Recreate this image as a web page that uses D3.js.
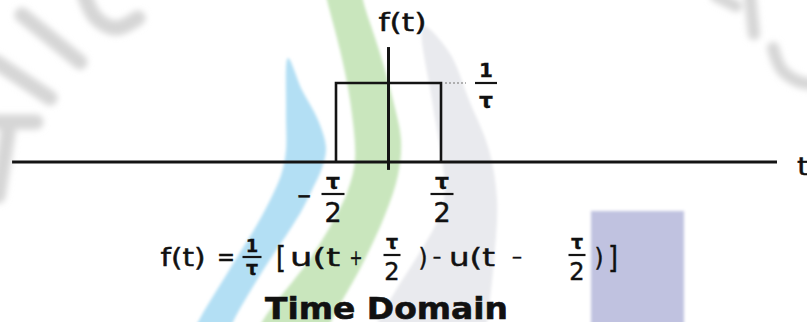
<!DOCTYPE html>
<html>
<head>
<meta charset="utf-8">
<script src="https://cdn.jsdelivr.net/npm/d3@7"></script>
<style>
  html, body { margin: 0; padding: 0; background: #ffffff; }
  svg { display: block; }
  text { font-family: "DejaVu Sans", Verdana, sans-serif; fill: #111; }
</style>
</head>
<body>
<svg id="chart" width="807" height="322"></svg>
<script>
// ---------- data ----------
const tau = 1;
const pulseT = [-tau / 2, -tau / 2, tau / 2, tau / 2];   // time points of the pulse outline
const pulseF = [0, 1 / tau, 1 / tau, 0];                  // f(t) values at those points
const tAxisExtent = [-3.585, 3.7];                        // horizontal (t) axis span
const fAxisExtent = [-0.1, 1.455];                        // vertical (f) axis span
const tickValues = [-tau / 2, tau / 2];
const tickLabels = [{ sign: "−", num: "τ", den: "2" }, { sign: "", num: "τ", den: "2" }];
const levelLabel = { num: "1", den: "τ" };
const axisNames = { x: "t", y: "f(t)" };
const title = "Time Domain";

// ---------- setup ----------
const svg = d3.select("#chart");
const x = d3.scaleLinear().domain([-tau / 2, tau / 2]).range([336, 441]);
const y = d3.scaleLinear().domain([0, 1 / tau]).range([162, 83]);

// ---------- watermark decoration ----------
const defs = svg.append("defs");
defs.append("filter").attr("id", "soft").attr("x", "-20%").attr("y", "-20%").attr("width", "140%").attr("height", "140%")
  .append("feGaussianBlur").attr("stdDeviation", 1.8);
defs.append("filter").attr("id", "softer").attr("x", "-30%").attr("y", "-30%").attr("width", "160%").attr("height", "160%")
  .append("feGaussianBlur").attr("stdDeviation", 3);
const deco = svg.append("g").attr("filter", "url(#soft)");
const closed = d3.line().curve(d3.curveCatmullRomClosed);
const open = d3.line().curve(d3.curveCatmullRom);

const blueShape = [[288,58],[286,110],[286,150],[282,172],[274,192],[265,210],[255,228],[228,272],[198,322],[190,340],
  [226,340],[233,322],[262,272],[291,228],[302,210],[312,190],[322,168],[326,148],[318,120],[302,90]];
const greenShape = [[325,-10],[327,0],[340,50],[350,100],[355,160],[348,190],[338,212],[312,256],[262,322],[255,340],
  [325,340],[331,322],[362,265],[385,215],[398,175],[401,140],[393,100],[379,50],[363,0],[362,-10]];
const grayShape = [[423,26],[432,100],[442,160],[445,190],[440,215],[420,252],[396,290],[378,322],[372,340],
  [484,340],[487,322],[494,260],[497,200],[489,150],[469,100],[449,52]];
deco.append("path").attr("d", closed(grayShape)).attr("fill", "#e9eaee");
deco.append("path").attr("d", closed(greenShape)).attr("fill", "#c9e6bd");
deco.append("path").attr("d", closed(blueShape)).attr("fill", "#b3dff4");
deco.append("rect").attr("x", 591).attr("y", 211).attr("width", 93).attr("height", 120).attr("fill", "#c0c2e0");

// faint gray watermark strokes (corners)
const wm = svg.append("g").attr("filter", "url(#softer)").attr("fill", "none").attr("stroke", "#d6d6d6")
  .attr("stroke-linecap", "round").attr("stroke-width", 15);
wm.append("path").attr("d", open([[22,15],[80,62]]));
wm.append("path").attr("d", open([[-4,62],[50,98]]));
wm.append("path").attr("d", open([[-4,122],[36,122]]));
wm.append("path").attr("d", open([[8,132],[-2,196]]));
wm.append("path").attr("d", open([[84,-6],[96,18],[116,28],[138,18]]));
wm.append("path").attr("d", open([[716,-4],[736,6]])).attr("stroke-width", 12);
wm.append("path").attr("d", open([[750,-4],[754,34]])).attr("stroke-width", 12);
wm.append("path").attr("d", open([[773,48],[782,70],[800,82],[812,84]])).attr("stroke-width", 12);

// ---------- axes ----------
const ink = "#141414";
svg.append("line")
  .attr("x1", x(tAxisExtent[0])).attr("x2", x(tAxisExtent[1]))
  .attr("y1", y(0)).attr("y2", y(0))
  .attr("stroke", ink).attr("stroke-width", 3);
svg.append("line")
  .attr("x1", x(0)).attr("x2", x(0))
  .attr("y1", y(fAxisExtent[0])).attr("y2", y(fAxisExtent[1]))
  .attr("stroke", ink).attr("stroke-width", 3);

// ---------- pulse ----------
const pulse = d3.line().x((d, i) => x(pulseT[i])).y((d, i) => y(pulseF[i]));
svg.append("path").attr("d", pulse(pulseT)).attr("fill", "none")
  .attr("stroke", ink).attr("stroke-width", 2.6).attr("stroke-linejoin", "miter");

// dotted leader to level label
svg.append("line")
  .attr("x1", x(tau / 2) + 4).attr("x2", x(tau / 2) + 25)
  .attr("y1", y(1 / tau)).attr("y2", y(1 / tau))
  .attr("stroke", "#9a9a9a").attr("stroke-width", 1.6).attr("stroke-dasharray", "2,2");

// ---------- text helpers ----------
// centred text; if w is given the glyphs are stretched horizontally to that width
function txt(g, cx, cy, s, size, opts = {}) {
  const t = g.append("text").attr("x", 0).attr("y", 0)
    .attr("text-anchor", "middle").attr("dominant-baseline", "central")
    .attr("font-size", size).attr("font-weight", opts.bold ? "bold" : "normal")
    .attr("stroke", "#111").attr("stroke-width", opts.bold ? 0.3 : 0.45)
    .text(s);
  let sx = 1;
  if (opts.w) {
    const len = t.node().getComputedTextLength();
    if (len > 0) sx = opts.w / len;
  }
  t.attr("transform", `translate(${cx},${cy}) scale(${sx},1)`);
  return t;
}
function frac(g, cx, numY, barY, denY, num, den, barW, numSize, denSize, numBold, denBold) {
  txt(g, cx, numY, num, numSize, { bold: numBold });
  g.append("line").attr("x1", cx - barW / 2).attr("x2", cx + barW / 2)
    .attr("y1", barY).attr("y2", barY).attr("stroke", ink).attr("stroke-width", 2.2);
  txt(g, cx, denY, den, denSize, { bold: denBold });
}

const labels = svg.append("g");
// axis names
txt(labels, x(0) + 14, 23, axisNames.y, 24, { w: 48 });
txt(labels, 803, 166, axisNames.x, 25, { w: 12 });

// tick labels
tickValues.forEach((v, i) => {
  const L = tickLabels[i];
  const cx = x(v) - 3 + i * 4;
  if (L.sign) txt(labels, cx - 29, 195, L.sign, 24, { w: 15 });
  frac(labels, cx, 181, 194, 212, L.num, L.den, 23, 22, 27, true, false);
});

// level label 1/τ
frac(labels, x(tau / 2) + 45, 70, y(1 / tau), 100, levelLabel.num, levelLabel.den, 22, 20, 22, true, true);

// ---------- formula ----------
const fg = svg.append("g");
const fy = 258;
txt(fg, 183, fy, "f(t)", 24, { w: 45 });
txt(fg, 226, fy - 1, "=", 24, { w: 18 });
frac(fg, 252, 245, 257, 268, "1", "τ", 19, 18, 19, true, true);
txt(fg, 281, fy, "[", 30, { w: 10 });
txt(fg, 315, fy, "u(t", 24, { w: 50 });
txt(fg, 356, fy - 1, "+", 22, { w: 13 });
frac(fg, 392, 242, 255, 272, "τ", "2", 17, 19, 24, true, false);
txt(fg, 423, fy, ")", 24, { w: 9 });
txt(fg, 437, fy - 1, "−", 20, { w: 9 });
txt(fg, 472, fy, "u(t", 24, { w: 46 });
txt(fg, 517, fy - 1, "−", 20, { w: 11 });
frac(fg, 577, 242, 255, 272, "τ", "2", 17, 19, 24, true, false);
txt(fg, 599, fy, ")", 24, { w: 9 });
txt(fg, 613, fy, "]", 30, { w: 10 });

// title
const tt = fg.append("text").attr("x", 0).attr("y", 0).attr("text-anchor", "middle")
  .attr("font-size", 31).attr("font-weight", "bold").attr("stroke", "#111").attr("stroke-width", 0.6).text(title);
const tl = tt.node().getComputedTextLength();
tt.attr("transform", `translate(386.5,318.5) scale(${243 / tl},1)`);
</script>
</body>
</html>
